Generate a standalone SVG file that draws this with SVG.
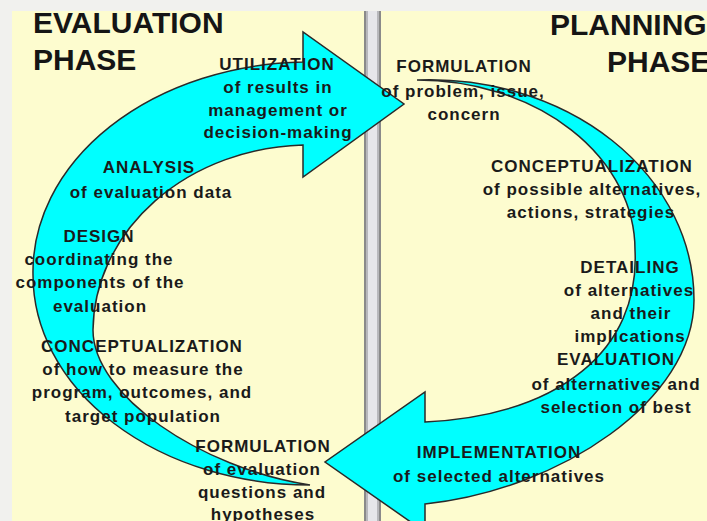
<svg xmlns="http://www.w3.org/2000/svg" width="707" height="521" viewBox="0 0 707 521">
<style>
.hd{font-family:"Liberation Sans",Arial,sans-serif;font-weight:bold;font-size:30px;fill:#151515}
.t{font-family:"Liberation Sans",Arial,sans-serif;font-weight:bold;font-size:17px;letter-spacing:1px;fill:#1a1a1a;text-anchor:middle}
.arrow{fill:#00ffff;stroke:#2a2a2a;stroke-width:1.5;stroke-linejoin:miter}
</style>
<rect x="0" y="0" width="707" height="521" fill="#f1f1ee"/>
<rect x="12" y="11" width="695" height="510" fill="#fdfccf"/>
<g id="divider">
<rect x="364" y="11" width="17" height="510" fill="#8a8a8a"/>
<rect x="366" y="11" width="13" height="510" fill="#b8b8bc"/>
<rect x="368" y="11" width="9" height="510" fill="#e6e6ea"/>
</g>
<g id="connectors">
<path class="arrow" d="M310,485 A277,210 0 0,1 33,275 A277,210 0 0,1 303,62 L303,32 L404,104 L303,177 L303,145 A217,187 0 0,0 93,330 C93,395 200,468 310,485 Z"/>
<path class="arrow" d="M417,80 A264,220 0 0,1 694,300 C694,400 560,490 425,504 L425,532 L325,462 L425,392 L425,422 C560,415 640,350 635,250 A218,170 0 0,0 417,80 Z"/>
</g>
<g id="headings">
<text class="hd" x="33" y="33">EVALUATION</text>
<text class="hd" x="33" y="70">PHASE</text>
<text class="hd" x="550" y="35">PLANNING</text>
<text class="hd" x="607" y="72">PHASE</text>
</g>
<g id="utilization">
<text class="t" x="277" y="70">UTILIZATION</text>
<text class="t" x="278" y="93">of results in</text>
<text class="t" x="278" y="116">management or</text>
<text class="t" x="278" y="138">decision-making</text>
</g>
<g id="analysis">
<text class="t" x="149" y="173">ANALYSIS</text>
<text class="t" x="151" y="198">of evaluation data</text>
</g>
<g id="design">
<text class="t" x="99" y="242">DESIGN</text>
<text class="t" x="99" y="265">coordinating the</text>
<text class="t" x="100" y="288">components of the</text>
<text class="t" x="100" y="312">evaluation</text>
</g>
<g id="conceptualization-eval">
<text class="t" x="142" y="352">CONCEPTUALIZATION</text>
<text class="t" x="143" y="375">of how to measure the</text>
<text class="t" x="142" y="398">program, outcomes, and</text>
<text class="t" x="143" y="422">target population</text>
</g>
<g id="formulation-eval">
<text class="t" x="263" y="452">FORMULATION</text>
<text class="t" x="262" y="475">of evaluation</text>
<text class="t" x="262" y="498">questions and</text>
<text class="t" x="263" y="520">hypotheses</text>
</g>
<g id="formulation-plan">
<text class="t" x="464" y="72">FORMULATION</text>
<text class="t" x="463" y="97">of problem, issue,</text>
<text class="t" x="464" y="120">concern</text>
</g>
<g id="conceptualization-plan">
<text class="t" x="592" y="172">CONCEPTUALIZATION</text>
<text class="t" x="592" y="195">of possible alternatives,</text>
<text class="t" x="591" y="218">actions, strategies</text>
</g>
<g id="detailing">
<text class="t" x="630" y="273">DETAILING</text>
<text class="t" x="629" y="296">of alternatives</text>
<text class="t" x="631" y="319">and their</text>
<text class="t" x="630" y="342">implications</text>
</g>
<g id="evaluation-plan">
<text class="t" x="616" y="365">EVALUATION</text>
<text class="t" x="616" y="390">of alternatives and</text>
<text class="t" x="616" y="413">selection of best</text>
</g>
<g id="implementation">
<text class="t" x="499" y="458">IMPLEMENTATION</text>
<text class="t" x="499" y="482">of selected alternatives</text>
</g>
</svg>
